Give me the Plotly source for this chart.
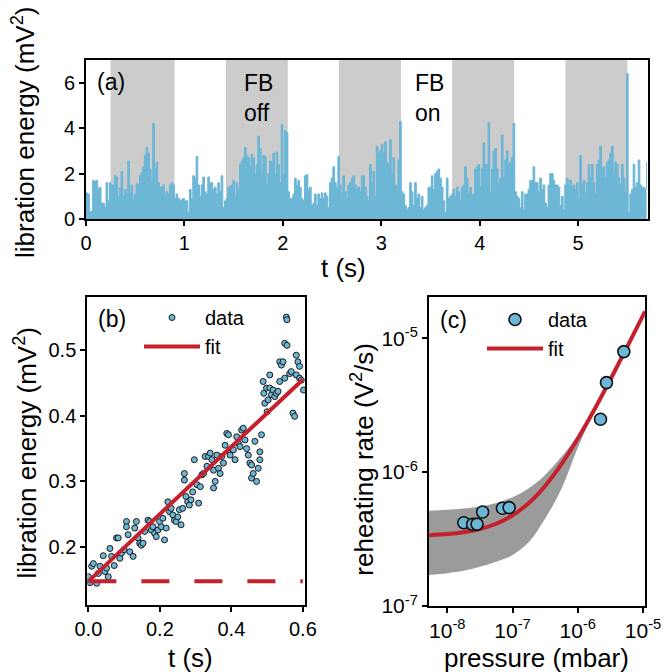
import numpy as np
import plotly.graph_objects as go

# ---------------- data ----------------
# (a) libration energy trace (mV^2), sampled every SAMPLE_DT seconds
SAMPLE_DT = 1.0 / 59.0
A_ENERGY = [
    1.15, 1.1, 0.3, 0.35, 1.7, 1.65, 1.7, 1.35, 1.4, 0.7, 0.7, 0.5, 1.6, 0.8, 1.6, 1.5, 1.5, 1.9, 1.85, 1.0,
    1.35, 2.1, 1.0, 1.3, 1.1, 2.55, 1.2, 1.5, 0.9, 1.1, 1.55, 1.5, 1.9, 2.05, 2.3, 2.8, 3.15, 2.9, 2.2, 1.6,
    4.2, 2.2, 2.5, 1.6, 1.4, 1.4, 1.5, 1.0, 1.2, 1.1, 1.5, 1.6, 1.5, 0.9, 1.1, 0.9, 0.8, 0.85, 0.9, 0.8,
    0.8, 0.3, 1.3, 0.9, 1.9, 1.8, 2.75, 1.5, 1.0, 1.5, 1.85, 1.2, 1.1, 1.85, 1.6, 1.6, 1.3, 1.4, 1.1, 1.6,
    1.2, 1.9, 0.5, 0.8, 0.9, 1.4, 1.45, 1.5, 1.7, 1.0, 1.6, 1.3, 2.4, 2.55, 2.7, 3.15, 2.8, 2.7, 2.3, 2.85,
    2.7, 2.0, 2.4, 3.65, 3.1, 2.1, 2.8, 2.75, 1.5, 2.0, 2.55, 2.5, 2.9, 2.0, 2.95, 2.4, 1.6, 4.15, 2.0, 3.9,
    3.8, 1.2, 0.9, 0.9, 1.1, 1.8, 1.5, 1.7, 1.4, 0.9, 0.8, 1.9, 1.95, 1.3, 1.4, 0.6, 0.7, 1.1, 0.6, 1.1,
    0.9, 1.15, 0.9, 1.15, 1.0, 0.5, 1.6, 1.8, 2.3, 1.6, 1.4, 2.75, 1.5, 1.0, 1.9, 1.2, 0.9, 1.5, 1.6, 1.8,
    1.9, 1.5, 1.3, 1.4, 1.2,
    1.9, 1.9, 1.4, 1.0, 0.8, 2.4, 1.6, 2.1, 1.0, 3.2, 2.9, 3.0, 3.3, 2.9, 3.4, 2.5, 2.4, 3.5, 2.0, 2.7,
    1.5, 1.4, 2.6, 4.3, 1.2, 1.1, 0.6, 0.4, 0.5, 1.6, 1.2, 0.6, 1.6, 0.9, 1.1, 0.5, 1.0, 0.4, 0.5, 0.6,
    1.4, 1.4, 1.9, 1.3, 2.0, 2.1, 2.2, 1.8, 1.4, 0.8, 0.3, 1.8, 0.9, 1.0, 1.1, 1.3, 1.0, 1.4, 1.2, 0.8,
    1.4, 1.5, 2.3, 1.8, 1.1, 1.4, 1.0, 1.1, 2.2, 2.3, 2.4, 1.4, 2.2, 3.35, 2.4, 2.4, 4.25, 1.2, 2.2, 3.0,
    3.1, 2.2, 1.5, 1.8, 3.7, 1.8, 2.6, 3.0, 2.4, 2.5, 2.7, 4.2, 1.2, 1.0, 0.9, 0.5, 1.2, 0.4, 1.1, 1.1,
    1.3, 1.7, 1.7, 2.3, 1.6, 1.6, 1.2, 1.8, 1.3, 1.5, 0.7, 0.5, 1.5, 2.0, 2.0, 1.7, 1.5, 1.5, 1.4, 0.6,
    1.0, 0.4, 1.5, 1.8, 1.5, 1.7, 1.4, 1.5, 1.3, 1.6, 0.9, 2.8, 1.5, 1.7, 1.1, 1.6, 2.4, 1.8, 2.4, 1.6,
    1.1, 2.4, 2.6, 3.2, 2.2, 2.3, 1.8, 2.5, 2.6, 2.9, 3.2, 2.0, 2.5, 2.4, 1.8, 1.5, 2.4, 1.8, 1.2, 6.4,
    0.3, 1.1, 1.3, 2.4, 1.4, 1.6, 2.6, 1.5, 1.4, 1.4, 1.3, 2.5,
]
FB_OFF_START = [0.25, 1.42, 2.57, 3.72, 4.87]
FB_OFF_END = [0.90, 2.05, 3.20, 4.35, 5.50]
A_X_TICKS = [0, 1, 2, 3, 4, 5]
A_Y_TICKS = [0, 2, 4, 6]

# (b) reheating after feedback off
B_T = [
    0.0, 0.0047, 0.0094, 0.014, 0.0232, 0.0279, 0.0325, 0.0417, 0.0464, 0.051, 0.0556, 0.0602, 0.0649,
    0.0723, 0.0788, 0.0834, 0.088, 0.0927, 0.1001, 0.1066, 0.1066, 0.1112, 0.1158, 0.1251, 0.1297, 0.1343,
    0.139, 0.1436, 0.1482, 0.1529, 0.1575, 0.1667, 0.1714, 0.176, 0.1806, 0.1853, 0.1899, 0.1945, 0.1992,
    0.2038, 0.2084, 0.213, 0.2177, 0.2223, 0.2269, 0.2316, 0.2362, 0.2408, 0.2454, 0.2501, 0.2547, 0.2593,
    0.264, 0.2686, 0.2686, 0.2732, 0.2779, 0.2825, 0.2871, 0.2917, 0.2964,
    0.3038, 0.3084, 0.3131, 0.3177, 0.3223, 0.3269, 0.3316, 0.3362, 0.3408, 0.3455, 0.3501, 0.3501, 0.3547,
    0.3594, 0.364, 0.3686, 0.3732, 0.3779, 0.3825, 0.3871, 0.3918, 0.3964, 0.401, 0.4056, 0.4103, 0.4149,
    0.4195, 0.4242, 0.4288, 0.4334, 0.4381, 0.4427, 0.4473, 0.4519, 0.4566, 0.4566, 0.4612, 0.4658, 0.4705,
    0.4751, 0.4797, 0.4797, 0.4843, 0.489, 0.4908, 0.4936, 0.4983, 0.5001, 0.5029, 0.5075, 0.5075, 0.5121,
    0.5168, 0.5214, 0.526, 0.5306, 0.5353, 0.5353, 0.5399, 0.5445, 0.5492, 0.5538, 0.5556, 0.5492, 0.5556,
    0.5631, 0.5677, 0.5723, 0.5769, 0.5816, 0.5816, 0.5862, 0.5908, 0.5908, 0.5955, 0.6019,
]
B_V = [
    0.155, 0.146, 0.171, 0.175, 0.145, 0.160, 0.171, 0.187, 0.163, 0.168, 0.155, 0.198, 0.186,
    0.172, 0.214, 0.214, 0.183, 0.191, 0.196, 0.239, 0.231, 0.219, 0.193, 0.186, 0.229, 0.239,
    0.214, 0.206, 0.203, 0.206, 0.224, 0.241, 0.239, 0.226, 0.231, 0.221, 0.216, 0.226, 0.239,
    0.231, 0.244, 0.211, 0.229, 0.269, 0.254, 0.259, 0.249, 0.241, 0.239, 0.246, 0.257, 0.234,
    0.259, 0.312, 0.302, 0.277, 0.269, 0.264, 0.272, 0.284, 0.333,
    0.295, 0.267, 0.292, 0.310, 0.312, 0.338, 0.323, 0.338, 0.343, 0.333, 0.290, 0.317, 0.300,
    0.340, 0.320, 0.312, 0.338, 0.328, 0.355, 0.373, 0.371, 0.340, 0.350, 0.348, 0.333, 0.368,
    0.358, 0.353, 0.378, 0.381, 0.363, 0.350, 0.340, 0.328, 0.305, 0.325, 0.312, 0.361, 0.300,
    0.320, 0.333, 0.345, 0.371, 0.452, 0.434, 0.419, 0.442, 0.406, 0.424, 0.462, 0.442, 0.432,
    0.439, 0.429, 0.434, 0.437, 0.452, 0.482, 0.477, 0.482, 0.457, 0.550, 0.546, 0.510, 0.507,
    0.464, 0.467, 0.404, 0.399, 0.492, 0.462, 0.482, 0.475, 0.457, 0.454, 0.439,
]
B_FIT_T = [0.0, 0.6]
B_FIT_V = [0.148, 0.455]
B_BASE_T = [0.0, 0.6]
B_BASE_V = [0.148, 0.148]
B_X_TICKS = [0.0, 0.2, 0.4, 0.6]
B_X_LABELS = ["0.0", "0.2", "0.4", "0.6"]
B_Y_TICKS = [0.2, 0.3, 0.4, 0.5]

# (c) reheating rate vs pressure
C_P = [1.79e-8, 2.45e-8, 2.86e-8, 3.48e-8, 7.0e-8, 8.87e-8, 2.23e-6, 2.75e-6, 5.08e-6]
C_RATE = [4.19e-7, 4.07e-7, 4.09e-7, 5.04e-7, 5.37e-7, 5.43e-7, 2.48e-6, 4.66e-6, 7.94e-6]
C_FIT_P = [5.0e-9, 1.0e-8, 1.78e-8, 3.16e-8, 5.62e-8, 1.0e-7, 1.78e-7, 3.16e-7, 5.62e-7,
           1.0e-6, 1.78e-6, 3.16e-6, 5.62e-6, 1.0e-5, 1.07e-5]
C_FIT_R = [3.373e-7, 3.445e-7, 3.558e-7, 3.758e-7, 4.115e-7, 4.75e-7, 5.878e-7, 7.885e-7, 1.145e-6,
           1.78e-6, 2.908e-6, 4.915e-6, 8.483e-6, 1.483e-5, 1.585e-5]
C_BAND_HI = [5.15e-7, 5.24e-7, 5.35e-7, 5.54e-7, 5.89e-7, 6.5e-7, 7.59e-7, 9.53e-7, 1.30e-6,
             1.88e-6, 2.95e-6, 4.93e-6, 8.49e-6, 1.484e-5, 1.586e-5]
C_BAND_LO = [1.70e-7, 1.76e-7, 1.83e-7, 1.96e-7, 2.14e-7, 2.40e-7, 3.0e-7, 4.5e-7, 7.5e-7,
             1.52e-6, 2.82e-6, 4.88e-6, 8.47e-6, 1.482e-5, 1.584e-5]
C_X_TICKS = [1e-8, 1e-7, 1e-6, 1e-5]
C_X_LABELS = ["10<sup>-8</sup>", "10<sup>-7</sup>", "10<sup>-6</sup>", "10<sup>-5</sup>"]
C_Y_TICKS = [1e-7, 1e-6, 1e-5]
C_Y_LABELS = ["10<sup>-7</sup>", "10<sup>-6</sup>", "10<sup>-5</sup>"]

# ---------------- style ----------------
FONT = "Liberation Sans, Arial, Helvetica, sans-serif"
BLUE = "#6cb6d6"
RED = "#c4202e"
SHADE = "#cccccc"
BAND = "#9b9b9b"
W, H = 664, 672


def fx(X):
    return X / W


def fy(Y):
    return 1 - Y / H


t_a = np.arange(len(A_ENERGY)) * SAMPLE_DT

fig = go.Figure()

# (a)
fig.add_trace(go.Scatter(x=t_a, y=A_ENERGY, mode="lines", line=dict(color=BLUE, width=1, shape="hv"),
                         fill="tozeroy", fillcolor=BLUE, showlegend=False, xaxis="x", yaxis="y"))
for s, e in zip(FB_OFF_START, FB_OFF_END):
    fig.add_shape(type="rect", xref="x", yref="y domain", x0=s, x1=e, y0=0, y1=1,
                  fillcolor=SHADE, line_width=0, layer="below")

# (b)
fig.add_trace(go.Scatter(x=B_T, y=B_V, mode="markers", name="data", legendrank=1,
                         marker=dict(color=BLUE, size=6, line=dict(color="#1a1a1a", width=1)),
                         xaxis="x2", yaxis="y2", legend="legend"))
fig.add_trace(go.Scatter(x=B_FIT_T, y=B_FIT_V, mode="lines", name="fit", legendrank=2,
                         line=dict(color=RED, width=4), xaxis="x2", yaxis="y2", legend="legend"))
fig.add_trace(go.Scatter(x=B_BASE_T, y=B_BASE_V, mode="lines", showlegend=False,
                         line=dict(color=RED, width=4, dash="28px,25px"), xaxis="x2", yaxis="y2"))

# (c)
fig.add_trace(go.Scatter(x=C_FIT_P, y=C_BAND_LO, mode="lines", line=dict(width=0, shape="spline"),
                         showlegend=False, xaxis="x3", yaxis="y3", hoverinfo="skip"))
fig.add_trace(go.Scatter(x=C_FIT_P, y=C_BAND_HI, mode="lines", line=dict(width=0, shape="spline"),
                         fill="tonexty", fillcolor=BAND, showlegend=False, xaxis="x3", yaxis="y3",
                         hoverinfo="skip"))
fig.add_trace(go.Scatter(x=C_FIT_P, y=C_FIT_R, mode="lines", name="fit", legendrank=2,
                         line=dict(color=RED, width=4, shape="spline"), xaxis="x3", yaxis="y3",
                         legend="legend2"))
fig.add_trace(go.Scatter(x=C_P, y=C_RATE, mode="markers", name="data", legendrank=1,
                         marker=dict(color=BLUE, size=12, line=dict(color="#111111", width=1.6)),
                         xaxis="x3", yaxis="y3", legend="legend2"))

axis_common = dict(showline=True, mirror=True, linewidth=2, linecolor="black", ticks="outside",
                   ticklen=5, tickwidth=1.5, tickcolor="black", showgrid=False, zeroline=False,
                   automargin=False, tickfont=dict(family=FONT, size=20, color="black"))
axis_c = {**axis_common, "tickfont": dict(family=FONT, size=21, color="black")}

fig.update_layout(
    width=W, height=H, margin=dict(l=0, r=0, t=0, b=0, autoexpand=False),
    paper_bgcolor="white", plot_bgcolor="white",
    font=dict(family=FONT, color="black"),
    xaxis=dict(domain=[fx(86), fx(648)], range=[0, 5.71], tickvals=A_X_TICKS, anchor="y", **axis_common),
    yaxis=dict(domain=[fy(219), fy(60)], range=[0, 7], tickvals=A_Y_TICKS, anchor="x", **axis_common),
    xaxis2=dict(domain=[fx(87.3), fx(305)], range=[-0.003, 0.606], tickvals=B_X_TICKS, ticktext=B_X_LABELS,
                anchor="y2", **axis_common),
    yaxis2=dict(domain=[fy(605), fy(296.7)], range=[0.112, 0.581], tickvals=B_Y_TICKS, anchor="x2",
                **axis_common),
    xaxis3=dict(type="log", domain=[fx(429), fx(645)], range=[-8.28, -4.97], tickvals=C_X_TICKS,
                ticktext=C_X_LABELS, anchor="y3", **axis_c),
    yaxis3=dict(type="log", domain=[fy(606), fy(296.7)], range=[-7, -4.69], tickvals=C_Y_TICKS,
                ticktext=C_Y_LABELS, anchor="x3", **axis_c),
    legend=dict(x=fx(139), y=fy(298), xanchor="left", yanchor="top", bgcolor="rgba(0,0,0,0)",
                font=dict(family=FONT, size=20, color="black"), itemwidth=56, tracegroupgap=0,
                traceorder="normal"),
    legend2=dict(x=fx(482), y=fy(300), xanchor="left", yanchor="top", bgcolor="rgba(0,0,0,0)",
                 font=dict(family=FONT, size=20, color="black"), itemwidth=56, tracegroupgap=0,
                 traceorder="normal"),
)

TITLE = dict(family=FONT, size=26, color="black")
LABEL = dict(family=FONT, size=23, color="black")
ann = [
    dict(text="libration energy (mV<sup>2</sup>)", x=fx(24), y=fy(133), textangle=-90, font=TITLE),
    dict(text="t (s)", x=fx(343), y=fy(267.5), font=TITLE),
    dict(text="libration energy (mV<sup>2</sup>)", x=fx(25.5), y=fy(453), textangle=-90, font=TITLE),
    dict(text="t (s)", x=fx(190), y=fy(658), font=TITLE),
    dict(text="reheating rate (V<sup>2</sup>/s)", x=fx(361.7), y=fy(459), textangle=-90, font=TITLE),
    dict(text="pressure (mbar)", x=fx(536), y=fy(658), font=TITLE),
    dict(text="(a)", x=fx(111), y=fy(81.7), font=LABEL),
    dict(text="(b)", x=fx(112), y=fy(319), font=LABEL),
    dict(text="(c)", x=fx(453), y=fy(320), font=LABEL),
    dict(text="FB<br>off", x=fx(241.7), y=fy(98), xanchor="left", align="left", font=LABEL),
    dict(text="FB<br>on", x=fx(413.3), y=fy(98), xanchor="left", align="left", font=LABEL),
]
for a in ann:
    base = dict(xref="paper", yref="paper", showarrow=False, xanchor="center", yanchor="middle")
    base.update(a)
    fig.add_annotation(**base)

fig.write_html("out.html", config={"displayModeBar": False},
               post_script="document.body.style.margin='0px';")
